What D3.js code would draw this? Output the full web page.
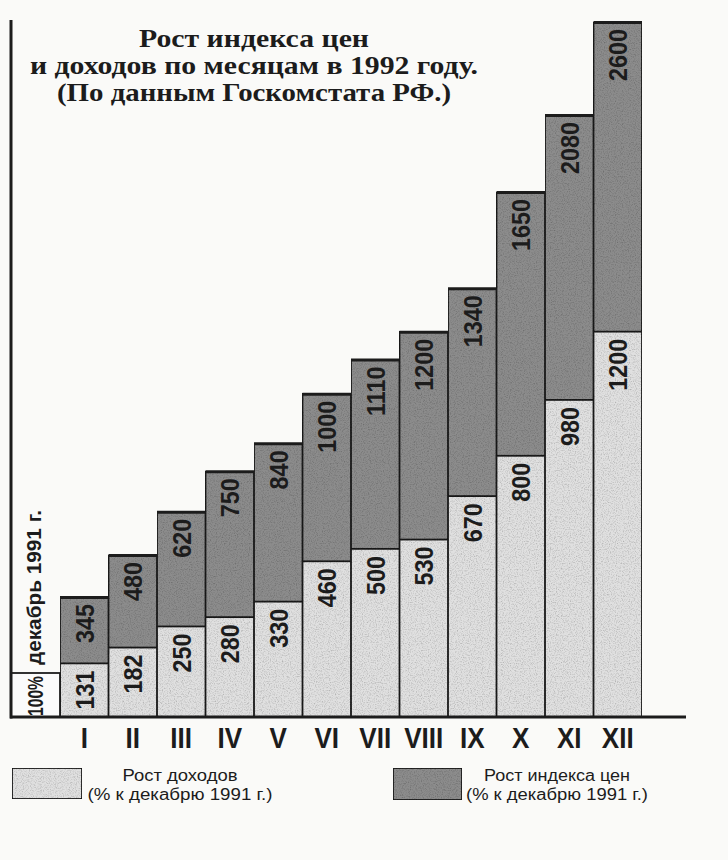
<!DOCTYPE html>
<html>
<head>
<meta charset="utf-8">
<script src="https://cdn.jsdelivr.net/npm/d3@7"></script>
<style>
  html, body { margin: 0; padding: 0; background: #fafaf8; }
  svg { display: block; }
</style>
</head>
<body>
<div id="chart"></div>
<script>
// months of 1992, values in % of december 1991
const months = ["I", "II", "III", "IV", "V", "VI", "VII", "VIII", "IX", "X", "XI", "XII"];
const income = [131, 182, 250, 280, 330, 460, 500, 530, 670, 800, 980, 1200];
const prices = [345, 480, 620, 750, 840, 1000, 1110, 1200, 1340, 1650, 2080, 2600];
const baseValue = 100;
const baseLabel = "100%";
const baseNote = "декабрь 1991 г.";

const titleLines = [
    "Рост индекса цен",
    "и доходов по месяцам в 1992 году.",
    "(По данным Госкомстата РФ.)"
];
const legendIncome = ["Рост доходов", "(% к декабрю 1991 г.)"];
const legendPrices = ["Рост индекса цен", "(% к декабрю 1991 г.)"];

const width = 728, height = 860;
const baseY = 717;
const lightFill = "#e0e0e0";
const darkFill = "#8c8c8c";
const ink = "#1c1c1c";
const sans = "'Liberation Sans', Arial, sans-serif";

var svg = d3.select("#chart")
    .append("svg")
    .attr("width", width)
    .attr("height", height);

// grain so the fills look like newsprint
var defs = svg.append("defs");
var grain = defs.append("filter").attr("id", "grain")
    .attr("x", 0).attr("y", 0).attr("width", 1).attr("height", 1);
grain.append("feTurbulence")
    .attr("type", "fractalNoise")
    .attr("baseFrequency", 0.85)
    .attr("numOctaves", 2)
    .attr("seed", 3)
    .attr("result", "noise");
grain.append("feColorMatrix")
    .attr("in", "noise")
    .attr("type", "matrix")
    .attr("values", "0 0 0 0 0  0 0 0 0 0  0 0 0 0 0  0 0 0 -0.9 0.5")
    .attr("result", "dots");
grain.append("feComposite")
    .attr("in", "dots").attr("in2", "SourceGraphic").attr("operator", "in")
    .attr("result", "dotsIn");
grain.append("feMerge").selectAll("feMergeNode")
    .data(["SourceGraphic", "dotsIn"]).join("feMergeNode")
    .attr("in", d => d);

var x = d3.scaleBand()
    .domain(months)
    .range([60, 642])
    .padding(0);

// the drawing is not to scale: short bars are stretched and the top is squeezed,
// a polylinear scale follows the hand-drawn steps
var y = d3.scaleLinear()
    .domain([0, baseValue, 1650, d3.max(prices)])
    .range([baseY, 673, 192, 22]);

var rows = months.map((m, i) => ({ month: m, income: income[i], price: prices[i] }));

// title
svg.append("g")
    .selectAll("text")
    .data(titleLines)
    .join("text")
    .attr("x", 254)
    .attr("y", (d, i) => 47 + i * 27)
    .attr("text-anchor", "middle")
    .attr("font-family", "'Liberation Serif', 'DejaVu Serif', serif")
    .attr("font-weight", "bold")
    .attr("font-size", 25)
    .attr("fill", ink)
    .attr("textLength", (d, i) => [230, 448, 394][i])
    .attr("lengthAdjust", "spacingAndGlyphs")
    .text(d => d);

// bars
var bars = svg.append("g").selectAll("g")
    .data(rows)
    .join("g");

bars.append("rect")
    .attr("x", d => x(d.month))
    .attr("y", d => y(d.price))
    .attr("width", x.bandwidth())
    .attr("height", d => y(d.income) - y(d.price))
    .attr("fill", darkFill)
    .attr("filter", "url(#grain)")
    .attr("stroke", ink)
    .attr("stroke-width", 1.8);

bars.append("rect")
    .attr("x", d => x(d.month))
    .attr("y", d => y(d.income))
    .attr("width", x.bandwidth())
    .attr("height", d => baseY - y(d.income))
    .attr("fill", lightFill)
    .attr("filter", "url(#grain)")
    .attr("stroke", ink)
    .attr("stroke-width", 1.8);

// heavier top edge on the price bars
bars.append("line")
    .attr("x1", d => x(d.month))
    .attr("x2", d => x(d.month) + x.bandwidth())
    .attr("y1", d => y(d.price) + 0.5)
    .attr("y2", d => y(d.price) + 0.5)
    .attr("stroke", ink)
    .attr("stroke-width", 3);

function valueLabel(sel, key) {
    sel.append("text")
        .attr("transform", d => "translate(" + (x(d.month) + x.bandwidth() / 2) + "," + (y(d[key]) + 7) + ") rotate(-90) scale(0.9,1)")
        .attr("text-anchor", "end")
        .attr("dy", "0.36em")
        .attr("font-family", sans)
        .attr("font-weight", "bold")
        .attr("font-size", 26)
        .attr("fill", ink)
        .text(d => d[key]);
}
valueLabel(bars, "price");
valueLabel(bars, "income");

// december 1991 reference column
svg.append("rect")
    .attr("x", 11)
    .attr("y", y(baseValue))
    .attr("width", x(months[0]) - 11)
    .attr("height", baseY - y(baseValue))
    .attr("fill", "#fbfbfb")
    .attr("stroke", ink)
    .attr("stroke-width", 1.8);

svg.append("text")
    .attr("transform", "translate(35," + (y(baseValue) + 3) + ") rotate(-90)")
    .attr("text-anchor", "end")
    .attr("dy", "0.36em")
    .attr("font-family", sans)
    .attr("font-weight", "bold")
    .attr("font-size", 22)
    .attr("textLength", 40)
    .attr("lengthAdjust", "spacingAndGlyphs")
    .attr("fill", ink)
    .text(baseLabel);

svg.append("text")
    .attr("transform", "translate(33," + (y(baseValue) - 8) + ") rotate(-90)")
    .attr("text-anchor", "start")
    .attr("dy", "0.36em")
    .attr("font-family", sans)
    .attr("font-weight", "bold")
    .attr("font-size", 21)
    .attr("textLength", 155)
    .attr("lengthAdjust", "spacingAndGlyphs")
    .attr("fill", ink)
    .text(baseNote);

// frame: left rule and baseline
svg.append("line")
    .attr("x1", 11).attr("x2", 11)
    .attr("y1", 20).attr("y2", baseY + 1.5)
    .attr("stroke", ink).attr("stroke-width", 3);

svg.append("line")
    .attr("x1", 10).attr("x2", 686)
    .attr("y1", baseY).attr("y2", baseY)
    .attr("stroke", ink).attr("stroke-width", 3);

// month axis
var xAxis = svg.append("g")
    .attr("transform", "translate(0," + baseY + ")")
    .call(d3.axisBottom(x).tickSize(0).tickPadding(10));
xAxis.select(".domain").remove();
xAxis.selectAll("text")
    .attr("dy", "0.71em")
    .attr("transform", "scale(0.9,1)")
    .attr("font-family", sans)
    .attr("font-weight", "bold")
    .attr("font-size", 29)
    .attr("fill", ink);

// legend
var legend = svg.append("g");
legend.append("rect")
    .attr("x", 12).attr("y", 768).attr("width", 70).attr("height", 31)
    .attr("fill", lightFill).attr("filter", "url(#grain)")
    .attr("stroke", ink).attr("stroke-width", 1.8);
legend.append("rect")
    .attr("x", 393).attr("y", 768).attr("width", 69).attr("height", 32)
    .attr("fill", darkFill).attr("filter", "url(#grain)")
    .attr("stroke", ink).attr("stroke-width", 1.8);

function legendText(lines, cx, widths) {
    legend.selectAll(null)
        .data(lines)
        .join("text")
        .attr("x", cx)
        .attr("y", (d, i) => 781 + i * 19)
        .attr("text-anchor", "middle")
        .attr("font-family", sans)
        .attr("font-size", 16)
        .attr("textLength", (d, i) => widths[i])
        .attr("lengthAdjust", "spacingAndGlyphs")
        .attr("fill", ink)
        .text(d => d);
}
legendText(legendIncome, 180, [115, 185]);
legendText(legendPrices, 557, [146, 182]);
</script>
</body>
</html>
